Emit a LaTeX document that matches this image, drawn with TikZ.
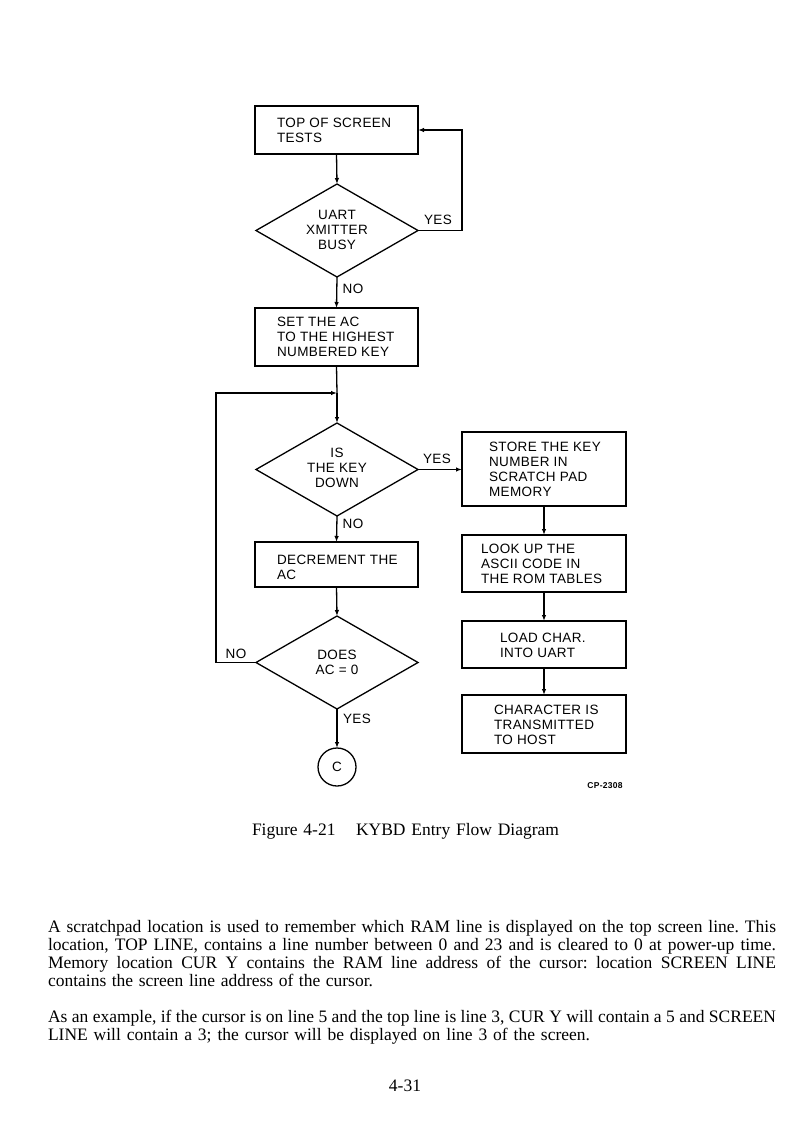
\documentclass[tikz,border=0pt]{standalone}
\usepackage{fontspec}
\setmainfont{Liberation Serif}
\newfontfamily\flowfont[LetterSpace=3]{Liberation Sans}
\usetikzlibrary{shapes.geometric,arrows.meta}
\begin{document}
\frenchspacing
\begin{tikzpicture}[x=1pt,y=-1pt,
  every node/.style={inner sep=0pt, outer sep=0pt},
  fbox/.style={draw, line width=1.3pt, rectangle},
  fdia/.style={draw, line width=1.3pt, diamond, minimum width=162pt, minimum height=93pt},
  ftext/.style={font=\flowfont\fontsize{13.5}{15}\selectfont, align=left, anchor=west},
  ctext/.style={font=\flowfont\fontsize{13.5}{15}\selectfont, align=center},
  flab/.style={font=\flowfont\fontsize{13.5}{15}\selectfont},
  conn/.style={line width=1.3pt},
  arr/.style={line width=1.3pt, -{Latex[length=6pt,width=4.5pt]}},
  body/.style={font=\fontsize{17.5}{18}\selectfont, anchor=base west}
]
\useasboundingbox (0,0) rectangle (809,1139);
\fill[white] (0,0) rectangle (809,1139);

% left column
\node[fbox, minimum width=163pt, minimum height=48pt] (b1) at (336.5,130) {};
\node[ftext] (t1) at (277,130) {TOP OF SCREEN\\TESTS};
\node[fdia] (d1) at (337,230.5) {};
\node[ctext] (td1) at (337,230) {UART\\XMITTER\\BUSY};
\node[fbox, minimum width=163pt, minimum height=58pt] (b2) at (336.5,337) {};
\node[ftext] (t2) at (277,337) {SET THE AC\\TO THE HIGHEST\\NUMBERED KEY};
\node[fdia] (d2) at (337,469.5) {};
\node[ctext] (td2) at (337,468) {IS\\THE KEY\\DOWN};
\node[fbox, minimum width=163pt, minimum height=45pt] (b4) at (336.5,564.5) {};
\node[ftext] (t4) at (277,567) {DECREMENT THE\\AC};
\node[fdia] (d3) at (337,662.5) {};
\node[ctext] (td3) at (337,662) {DOES\\AC = 0};
\node[draw, line width=1.3pt, circle, minimum size=38pt] (c) at (337,767) {};
\node[flab] (tc) at (337,767) {C};

% right column
\node[fbox, minimum width=164pt, minimum height=74pt] (b3) at (544,469) {};
\node[ftext] (t3) at (489,469) {STORE THE KEY\\NUMBER IN\\SCRATCH PAD\\MEMORY};
\node[fbox, minimum width=164pt, minimum height=57pt] (b5) at (544,563.5) {};
\node[ftext] (t5) at (481,564) {LOOK UP THE\\ASCII CODE IN\\THE ROM TABLES};
\node[fbox, minimum width=164pt, minimum height=47pt] (b6) at (544,644.5) {};
\node[ftext] (t6) at (500,645) {LOAD CHAR.\\INTO UART};
\node[fbox, minimum width=164pt, minimum height=58pt] (b7) at (544,724) {};
\node[ftext] (t7) at (494,725) {CHARACTER IS\\TRANSMITTED\\TO HOST};

% labels
\node[flab] (l1) at (438,220) {YES};
\node[flab] (l2) at (353,289) {NO};
\node[flab] (l3) at (437,459) {YES};
\node[flab] (l4) at (353,524) {NO};
\node[flab] (l5) at (236,654) {NO};
\node[flab] (l6) at (357,719) {YES};

% connectors
\coordinate (r1) at (462,230.5);
\coordinate (j1) at (337,393);
\coordinate (lft) at (216,662.5);
\draw[arr] (b1.south) -- (d1.north);
\draw[arr] (d1.east) -- (r1) |- (b1.east);
\draw[arr] (d1.south) -- (b2.north);
\draw[conn] (b2.south) -- (j1);
\draw[arr] (j1) -- (d2.north);
\draw[arr] (d3.west) -- (lft) |- (j1);
\draw[arr] (d2.east) -- (d2.east -| b3.west);
\draw[arr] (d2.south) -- (b4.north);
\draw[arr] (b4.south) -- (d3.north);
\draw[arr] (d3.south) -- (c.north);
\draw[arr] (b3.south) -- (b5.north);
\draw[arr] (b5.south) -- (b6.north);
\draw[arr] (b6.south) -- (b7.north);

% figure id and caption
\node[font=\flowfont\bfseries\fontsize{8.5}{10}\selectfont] (cp) at (605,786) {CP-2308};
\node[font=\fontsize{17.5}{18}\selectfont, anchor=base west] (cap) at (252,835) {\makebox[307pt][s]{Figure 4-21\hspace{1.1em plus 2pt}KYBD Entry Flow Diagram}};

% body text
\node[body] (p1) at (48,932) {\makebox[728pt][s]{A scratchpad location is used to remember which RAM line is displayed on the top screen line. This}};
\node[body] (p2) at (48,950) {\makebox[728pt][s]{location, TOP LINE, contains a line number between 0 and 23 and is cleared to 0 at power-up time.}};
\node[body] (p3) at (48,968) {\makebox[728pt][s]{Memory location CUR Y contains the RAM line address of the cursor: location SCREEN LINE}};
\node[body] (p4) at (48,986) {\makebox[325pt][s]{contains the screen line address of the cursor.}};
\node[body] (p5) at (48,1022) {\makebox[728pt][s]{As an example, if the cursor is on line 5 and the top line is line 3, CUR Y will contain a 5 and SCREEN}};
\node[body] (p6) at (48,1040) {\makebox[542pt][s]{LINE will contain a 3; the cursor will be displayed on line 3 of the screen.}};
\node[font=\fontsize{17.5}{18}\selectfont, anchor=base] (pg) at (405,1091) {4-31};
\end{tikzpicture}
\end{document}
